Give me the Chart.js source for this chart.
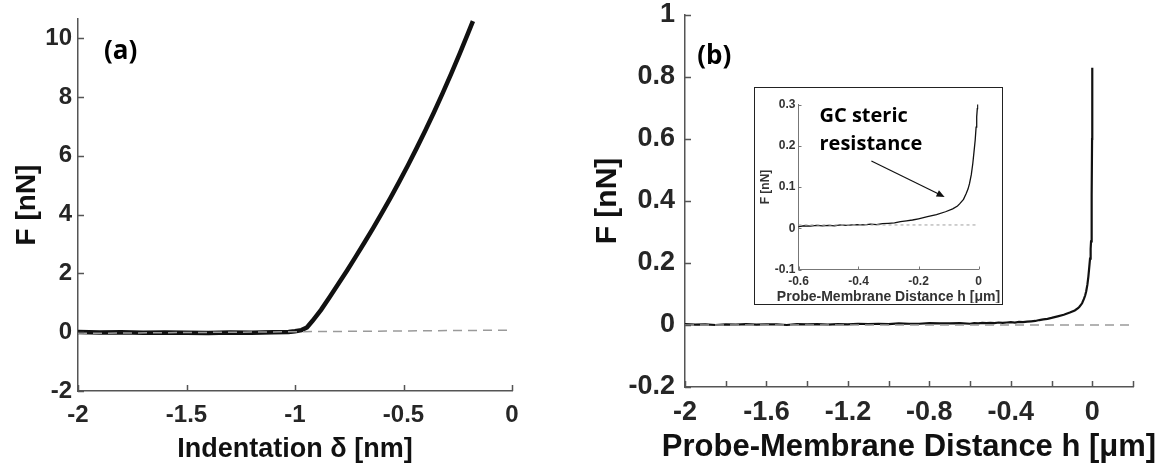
<!DOCTYPE html>
<html>
<head>
<meta charset="utf-8">
<script src="https://cdn.jsdelivr.net/npm/chart.js@4.4.0/dist/chart.umd.min.js"></script>
<style>
  body { margin: 0; background: #fff; width: 1163px; height: 470px; position: relative; overflow: hidden; }
  #boxA { position: absolute; left: 0; top: 0; width: 560px; height: 470px; }
  #boxB { position: absolute; left: 560px; top: 0; width: 603px; height: 470px; }
  #inset { position: absolute; left: 754px; top: 87px; width: 249px; height: 218px; box-sizing: border-box; border: 1.5px solid #222; background: #fff; }
  canvas { display: block; }
</style>
</head>
<body>
<div id="boxA"><canvas id="chartA" width="560" height="470"></canvas></div>
<div id="boxB"><canvas id="chartB" width="603" height="470"></canvas></div>
<div id="inset"><canvas id="chartC" width="246" height="215"></canvas></div>
<script>
// (a) force vs indentation
const indentA = [-2, -1.9, -1.8, -1.7, -1.6, -1.5, -1.4, -1.3, -1.2, -1.1, -1.03, -1.0, -0.97, -0.945, -0.92, -0.88, -0.84, -0.80, -0.76, -0.72, -0.68, -0.64, -0.60, -0.56, -0.52, -0.48, -0.44, -0.40, -0.36, -0.32, -0.28, -0.24, -0.20, -0.18];
const forceA = [0.01, -0.01, 0.0, -0.02, -0.01, -0.02, -0.03, -0.01, -0.02, 0.0, 0.01, 0.03, 0.07, 0.16, 0.38, 0.76, 1.2, 1.65, 2.1, 2.57, 3.05, 3.54, 4.05, 4.57, 5.11, 5.67, 6.25, 6.85, 7.47, 8.12, 8.79, 9.49, 10.21, 10.58];
const baseIndentA = [-2, 0];
const baseForceA = [-0.04, 0.07];
const xTicksA = [-2, -1.5, -1, -0.5, 0];
const yTicksA = [-2, 0, 2, 4, 6, 8, 10];

// (b) force vs probe-membrane distance
const distB = [-2, -1.95, -1.9, -1.85, -1.8, -1.75, -1.7, -1.65, -1.6, -1.55, -1.5, -1.45, -1.4, -1.35, -1.3, -1.25, -1.2, -1.15, -1.1, -1.05, -1.0, -0.95, -0.9, -0.85, -0.8, -0.75, -0.7, -0.65,
  -0.6, -0.58, -0.56, -0.54, -0.52, -0.5, -0.48, -0.46, -0.44, -0.42, -0.4, -0.38, -0.36, -0.34, -0.32, -0.3, -0.28, -0.26, -0.24, -0.22, -0.2,
  -0.17, -0.14, -0.11, -0.086, -0.07, -0.063, -0.05, -0.041, -0.035, -0.03, -0.024, -0.019, -0.015, -0.011, -0.008, -0.006, -0.004, -0.003, -0.002, -0.001, 0];
const forceB = [0.003, 0.001, 0.002, 0.0, 0.002, 0.001, 0.003, 0.001, 0.002, 0.002, 0.0, 0.003, 0.002, 0.003, 0.001, 0.003, 0.002, 0.004, 0.003, 0.004, 0.003, 0.005, 0.004, 0.004, 0.006, 0.005, 0.005, 0.006,
  0.004, 0.006, 0.005, 0.007, 0.006, 0.007, 0.006, 0.008, 0.007, 0.008, 0.009, 0.008, 0.010, 0.009, 0.011, 0.012, 0.013, 0.016, 0.018, 0.020, 0.023,
  0.028, 0.033, 0.040, 0.047, 0.054, 0.059, 0.070, 0.084, 0.095, 0.108, 0.13, 0.157, 0.185, 0.214, 0.245, 0.27, 0.29, 0.30, 0.42, 0.60, 0.83];
const baseDistB = [-2, 0.2];
const baseForceB = [0, 0];
const xTicksB = [-2, -1.8, -1.6, -1.4, -1.2, -1, -0.8, -0.6, -0.4, -0.2, 0, 0.2];
const xLabelsB = [-2, -1.6, -1.2, -0.8, -0.4, 0];
const yTicksB = [-0.2, 0, 0.2, 0.4, 0.6, 0.8, 1];

// inset of (b)
const baseDistC = [-0.6, 0];
const baseForceC = [0.008, 0.008];
const xTicksC = [-0.6, -0.4, -0.2, 0];
const yTicksC = [-0.1, 0, 0.1, 0.2, 0.3];

Chart.defaults.font.family = "'Liberation Sans', Arial, sans-serif";
Chart.defaults.font.weight = 'bold';
Chart.defaults.animation = false;

const noteFont = "'Open Sans', Lato, sans-serif";

function pts(xs, ys) {
  return xs.map((x, i) => ({ x: x, y: ys[i] }));
}

// MATLAB style tick marks pointing into the plot
const inwardTicks = {
  id: 'inwardTicks',
  afterDraw(chart, args, opts) {
    const ctx = chart.ctx, a = chart.chartArea;
    const xs = chart.scales.x, ys = chart.scales.y;
    ctx.save();
    ctx.strokeStyle = opts.color;
    ctx.lineWidth = opts.width;
    ctx.beginPath();
    xs.ticks.forEach(t => {
      const px = Math.round(xs.getPixelForValue(t.value)) + 0.5;
      ctx.moveTo(px, a.bottom);
      ctx.lineTo(px, a.bottom - opts.len);
    });
    ys.ticks.forEach(t => {
      const py = Math.round(ys.getPixelForValue(t.value)) + 0.5;
      ctx.moveTo(a.left, py);
      ctx.lineTo(a.left + opts.len, py);
    });
    ctx.stroke();
    ctx.restore();
  }
};

// panel letters, inset note, arrow and wide axis titles
const notes = {
  id: 'notes',
  afterDraw(chart, args, opts) {
    const ctx = chart.ctx, xs = chart.scales.x, ys = chart.scales.y, a = chart.chartArea;
    ctx.save();
    (opts.texts || []).forEach(t => {
      ctx.font = t.font;
      ctx.fillStyle = t.color || '#000';
      ctx.textBaseline = 'middle';
      if (t.under !== undefined) {
        // axis title centred under the plot area, no width squeeze
        ctx.textAlign = 'center';
        ctx.fillText(t.text, (a.left + a.right) / 2, a.bottom + t.under);
      } else {
        ctx.textAlign = 'left';
        ctx.fillText(t.text, xs.getPixelForValue(t.x), ys.getPixelForValue(t.y));
      }
    });
    (opts.arrows || []).forEach(ar => {
      const x0 = xs.getPixelForValue(ar.x0), y0 = ys.getPixelForValue(ar.y0);
      const x1 = xs.getPixelForValue(ar.x1), y1 = ys.getPixelForValue(ar.y1);
      const ang = Math.atan2(y1 - y0, x1 - x0);
      ctx.strokeStyle = '#111';
      ctx.fillStyle = '#111';
      ctx.lineWidth = 1.2;
      ctx.beginPath();
      ctx.moveTo(x0, y0);
      ctx.lineTo(x1 - 6 * Math.cos(ang), y1 - 6 * Math.sin(ang));
      ctx.stroke();
      ctx.beginPath();
      ctx.moveTo(x1, y1);
      ctx.lineTo(x1 - 8 * Math.cos(ang) + 3.5 * Math.sin(ang), y1 - 8 * Math.sin(ang) - 3.5 * Math.cos(ang));
      ctx.lineTo(x1 - 8 * Math.cos(ang) - 3.5 * Math.sin(ang), y1 - 8 * Math.sin(ang) + 3.5 * Math.cos(ang));
      ctx.closePath();
      ctx.fill();
    });
    ctx.restore();
  }
};

function axis(min, max, ticks, labels, c) {
  return {
    type: 'linear',
    min: min,
    max: max,
    grid: { display: false, drawTicks: false },
    border: { display: true, color: c.axisColor || '#555', width: c.axisWidth || 1.5 },
    afterBuildTicks: s => { s.ticks = ticks.map(v => ({ value: v })); },
    afterFit: s => { if (s.isHorizontal()) s.height = c.size; else s.width = c.size; },
    ticks: {
      autoSkip: false,
      maxRotation: 0,
      color: c.tickColor || '#262626',
      padding: c.tickPad,
      // small line height on y keeps the end labels from pushing the plot area in
      font: { size: c.tickSize, weight: 'bold', lineHeight: c.tickLH || 1.2 },
      callback: v => labels.some(l => Math.abs(l - v) < 1e-9) ? String(v) : ''
    },
    title: {
      display: !!c.title,
      text: c.title || '',
      color: c.titleColor || '#111',
      font: { size: c.titleSize, weight: 'bold' },
      padding: c.titlePad
    }
  };
}

// panel (a)
new Chart(document.getElementById('chartA'), {
  type: 'scatter',
  data: {
    datasets: [
      { data: pts(baseIndentA, baseForceA), showLine: true, borderColor: '#9a9a9a', borderWidth: 1.5, borderDash: [9, 6], pointRadius: 0 },
      { data: pts(indentA, forceA), showLine: true, borderColor: '#111', borderWidth: 4.5, pointRadius: 0 }
    ]
  },
  options: {
    responsive: false,
    devicePixelRatio: 1,
    layout: { padding: { top: 19, right: 48, left: 0, bottom: 0 } },
    plugins: {
      legend: { display: false },
      tooltip: { enabled: false },
      inwardTicks: { len: 6, width: 1.5, color: '#555' },
      notes: { texts: [
        { text: '(a)', x: -1.88, y: 9.55, font: 'bold 26px ' + noteFont },
        { text: 'Indentation δ [nm]', under: 59, font: "bold 27px 'Liberation Sans', Arial, sans-serif", color: '#111' }
      ] }
    },
    scales: {
      x: axis(-2, 0, xTicksA, xTicksA, { size: 79, tickSize: 24, tickPad: 10 }),
      y: axis(-2, 10.65, yTicksA, yTicksA, { size: 78, tickSize: 24, tickPad: 6, tickLH: 0.4, title: 'F [nN]', titleSize: 28, titlePad: { top: 10, bottom: 0 } })
    }
  },
  plugins: [inwardTicks, notes]
});

// panel (b)
new Chart(document.getElementById('chartB'), {
  type: 'scatter',
  data: {
    datasets: [
      { data: pts(baseDistB, baseForceB), showLine: true, borderColor: '#9a9a9a', borderWidth: 1.5, borderDash: [9, 6], pointRadius: 0 },
      { data: pts(distB, forceB), showLine: true, borderColor: '#111', borderWidth: 2.2, pointRadius: 0 }
    ]
  },
  options: {
    responsive: false,
    devicePixelRatio: 1,
    layout: { padding: { top: 15, right: 30, left: 0, bottom: 0 } },
    plugins: {
      legend: { display: false },
      tooltip: { enabled: false },
      inwardTicks: { len: 6, width: 1.5, color: '#555' },
      notes: { texts: [
        { text: '(b)', x: -1.94, y: 0.865, font: 'bold 26px ' + noteFont },
        { text: 'Probe-Membrane Distance h [μm]', under: 60, font: "bold 31px 'Liberation Sans', Arial, sans-serif", color: '#111' }
      ] }
    },
    scales: {
      x: axis(-2, 0.2, xTicksB, xLabelsB, { size: 83, tickSize: 27, tickPad: 9 }),
      y: axis(-0.2, 1, yTicksB, yTicksB, { size: 125, tickSize: 27, tickPad: 10, tickLH: 0.3, title: 'F [nN]', titleSize: 30, titlePad: { top: 30, bottom: 0 } })
    }
  },
  plugins: [inwardTicks, notes]
});

// inset
new Chart(document.getElementById('chartC'), {
  type: 'scatter',
  data: {
    datasets: [
      { data: pts(baseDistC, baseForceC), showLine: true, borderColor: '#b0b0b0', borderWidth: 1.2, borderDash: [3, 3], pointRadius: 0 },
      { data: pts(distB, forceB), showLine: true, borderColor: '#111', borderWidth: 1.3, pointRadius: 0 }
    ]
  },
  options: {
    responsive: false,
    devicePixelRatio: 1,
    layout: { padding: { top: 16.5, right: 22.5, left: 0, bottom: 0 } },
    plugins: {
      legend: { display: false },
      tooltip: { enabled: false },
      inwardTicks: { len: 3, width: 1, color: '#777' },
      notes: {
        texts: [
          { text: 'GC steric', x: -0.53, y: 0.272, font: 'bold 20px ' + noteFont },
          { text: 'resistance', x: -0.53, y: 0.203, font: 'bold 20px ' + noteFont },
          { text: 'Probe-Membrane Distance h [μm]', under: 28, font: "bold 14px 'Liberation Sans', Arial, sans-serif", color: '#333' }
        ],
        arrows: [{ x0: -0.357, y0: 0.163, x1: -0.113, y1: 0.076 }]
      }
    },
    scales: {
      x: axis(-0.6, 0, xTicksC, xTicksC, { size: 33.5, axisColor: '#777', axisWidth: 1, tickColor: '#333', tickSize: 12, tickPad: 5 }),
      y: axis(-0.1, 0.3, yTicksC, yTicksC, { size: 43.5, axisColor: '#777', axisWidth: 1, tickColor: '#333', tickSize: 12, tickPad: 3, tickLH: 0.5, title: 'F [nN]', titleColor: '#333', titleSize: 12, titlePad: { top: 3, bottom: 0 } })
    }
  },
  plugins: [inwardTicks, notes]
});
</script>
</body>
</html>
